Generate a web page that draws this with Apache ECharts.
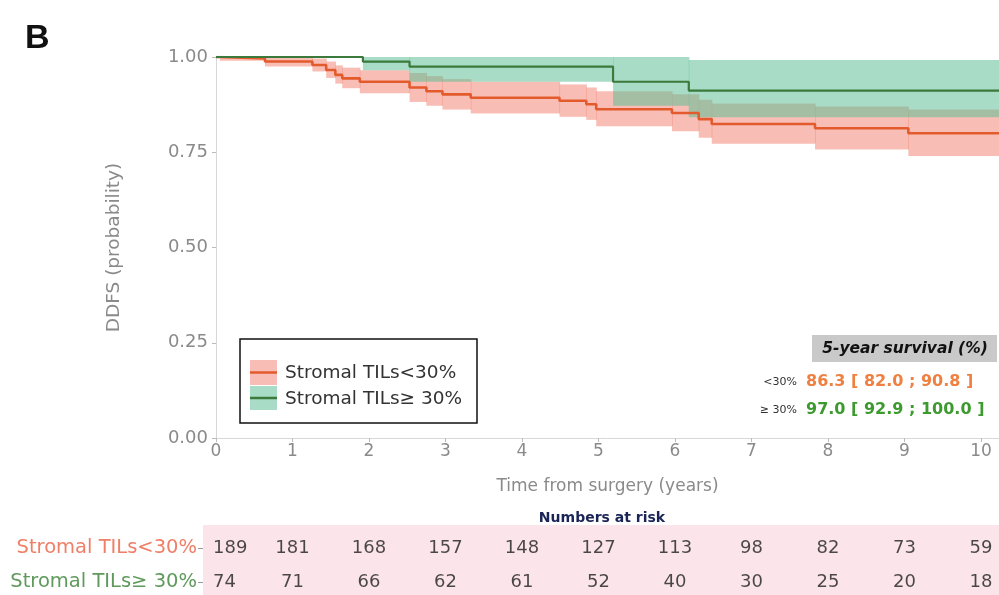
<!DOCTYPE html>
<html>
<head>
<meta charset="utf-8">
<script src="https://cdn.jsdelivr.net/npm/echarts@6/dist/echarts.min.js"></script>
<style>
html,body{margin:0;padding:0;background:#fff;}
#chart{width:999px;height:595px;}
</style>
</head>
<body>
<div id="chart"></div>
<script>
// ---- Data ----
// Stromal TILs<30% : Kaplan-Meier steps (time in years, survival) with 95% CI
const lowT     = [0, 0.05, 0.64, 1.26, 1.44, 1.56, 1.65, 1.88, 2.53, 2.75, 2.96, 3.33, 4.49, 4.84, 4.97, 5.96, 6.31, 6.48, 7.83, 9.05, 10.235];
const lowS     = [1.0, 0.996, 0.988, 0.979, 0.966, 0.953, 0.944, 0.935, 0.920, 0.910, 0.902, 0.893, 0.885, 0.876, 0.863, 0.853, 0.837, 0.824, 0.813, 0.800, 0.800];
const lowLower = [1.0, 0.990, 0.975, 0.962, 0.945, 0.930, 0.918, 0.905, 0.882, 0.872, 0.862, 0.852, 0.843, 0.835, 0.818, 0.805, 0.788, 0.772, 0.757, 0.740, 0.740];
const lowUpper = [1.0, 1.0, 1.0, 0.996, 0.988, 0.978, 0.972, 0.965, 0.958, 0.950, 0.942, 0.935, 0.928, 0.920, 0.910, 0.902, 0.888, 0.878, 0.870, 0.862, 0.862];
// Stromal TILs>=30%
const highT     = [0, 1.92, 2.53, 5.19, 6.18, 10.235];
const highS     = [1.0, 0.988, 0.975, 0.935, 0.912, 0.912];
const highLower = [1.0, 0.965, 0.935, 0.872, 0.842, 0.842];
const highUpper = [1.0, 1.0, 1.0, 1.0, 0.992, 0.992];

// Numbers at risk
const riskYears = [0, 1, 2, 3, 4, 5, 6, 7, 8, 9, 10];
const riskLow  = [189, 181, 168, 157, 148, 127, 113, 98, 82, 73, 59];
const riskHigh = [74, 71, 66, 62, 61, 52, 40, 30, 25, 20, 18];
const groupNames = ['Stromal TILs≥ 30%', 'Stromal TILs<30%'];

// 5-year survival table
const survRows = ['<30%', '≥ 30%'];
const survVals = ['86.3 [ 82.0 ; 90.8 ]', '97.0 [ 92.9 ; 100.0 ]'];

// ---- Styles ----
const FONT = 'DejaVu Sans';
const cLowLine = '#e35a2c', cHighLine = '#3b7a3b';
const cLowBand = 'rgba(240,110,90,0.45)', cHighBand = 'rgba(97,191,151,0.55)';
const axisGray = '#d8d8d8', labelGray = '#8a8a8a';

function pairs(t, v) { return t.map((x, i) => [x, v[i]]); }
// band segments: [t_i, t_{i+1}, lower_i, upper_i]
function bandSegs(t, lo, up) {
  const out = [];
  for (let i = 0; i < t.length - 1; i++) out.push([t[i], t[i + 1], lo[i], up[i]]);
  return out;
}
function bandRenderer(color) {
  return function (params, api) {
    const p1 = api.coord([api.value(0), api.value(3)]);
    const p2 = api.coord([api.value(1), api.value(2)]);
    return {
      type: 'rect',
      shape: {x: p1[0], y: p1[1], width: p2[0] - p1[0] + 0.6, height: Math.max(p2[1] - p1[1], 0.01)},
      style: {fill: color}
    };
  };
}

const chart = echarts.init(document.getElementById('chart'), null, {renderer: 'canvas'});

const riskData = [];
riskYears.forEach((y, i) => {
  const first = i === 0;
  const lab = first ? {align: 'left', offset: [-3, 0]} : undefined;
  riskData.push(first ? {value: [y, 1, riskLow[i]], label: lab} : [y, 1, riskLow[i]]);
  riskData.push(first ? {value: [y, 0, riskHigh[i]], label: lab} : [y, 0, riskHigh[i]]);
});

const Z = 100;
const option = {
  animation: false,
  grid: [
    {left: 216, right: 0, top: 57, bottom: 157},
    {left: 203, right: 0, top: 525, bottom: 0, show: true, backgroundColor: '#fbe5ea', borderWidth: 0}
  ],
  xAxis: [
    {
      type: 'value', gridIndex: 0, min: 0, max: 10.235, interval: 1,
      name: 'Time from surgery (years)', nameLocation: 'middle', nameGap: 40,
      nameTextStyle: {fontFamily: FONT, fontSize: 17, color: labelGray},
      axisLine: {show: true, onZero: false, lineStyle: {color: axisGray, width: 1}},
      axisTick: {show: true, length: 4, lineStyle: {color: '#bbb'}},
      axisLabel: {showMaxLabel: false, fontFamily: FONT, fontSize: 17, color: labelGray, margin: 5},
      splitLine: {show: false}
    },
    {type: 'value', gridIndex: 1, min: -0.17, max: 10.235, show: false}
  ],
  yAxis: [
    {
      type: 'value', gridIndex: 0, min: 0, max: 1, interval: 0.25,
      name: 'DDFS (probability)', nameLocation: 'middle', nameGap: 92, nameRotate: 90,
      nameTextStyle: {fontFamily: FONT, fontSize: 18.5, color: labelGray},
      axisLine: {show: true, onZero: false, lineStyle: {color: axisGray, width: 1}},
      axisTick: {show: true, length: 4, lineStyle: {color: '#bbb'}},
      axisLabel: {formatter: v => v.toFixed(2), fontFamily: FONT, fontSize: 18, color: labelGray, margin: 8},
      splitLine: {show: false}
    },
    {
      type: 'value', gridIndex: 1, min: -0.38, max: 1.68,
      axisLine: {show: false, onZero: false},
      axisTick: {show: true, length: 5, customValues: [0, 1], lineStyle: {color: '#999'}},
      axisLabel: {
        customValues: [0, 1], margin: 6,
        formatter: v => v === 1 ? '{o|' + groupNames[1] + '}' : '{g|' + groupNames[0] + '}',
        rich: {
          o: {color: '#ef7f66', fontFamily: FONT, fontSize: 19.5},
          g: {color: '#5f9a5c', fontFamily: FONT, fontSize: 19.5}
        }
      },
      splitLine: {show: false}
    }
  ],
  series: [
    {type: 'custom', xAxisIndex: 0, yAxisIndex: 0, renderItem: bandRenderer(cLowBand),
     data: bandSegs(lowT, lowLower, lowUpper), silent: true, z: 1, clip: true},
    {type: 'custom', xAxisIndex: 0, yAxisIndex: 0, renderItem: bandRenderer(cHighBand),
     data: bandSegs(highT, highLower, highUpper), silent: true, z: 2, clip: true},
    {type: 'line', xAxisIndex: 0, yAxisIndex: 0, step: 'end', symbol: 'none',
     data: pairs(lowT, lowS), lineStyle: {color: cLowLine, width: 2.6}, z: 5},
    {type: 'line', xAxisIndex: 0, yAxisIndex: 0, step: 'end', symbol: 'none',
     data: pairs(highT, highS), lineStyle: {color: cHighLine, width: 2.2}, z: 6},
    {type: 'scatter', xAxisIndex: 1, yAxisIndex: 1, symbolSize: 0, data: riskData,
     label: {show: true, position: 'inside', formatter: p => String(p.value[2]),
             fontFamily: FONT, fontSize: 18, color: '#1e1e1e'}}
  ],
  graphic: [
    {type: 'text', left: 25, top: 22, z: Z, style: {text: 'B', font: 'bold 34px "Liberation Sans", Arial', fill: '#111'}},
    {type: 'rect', z: Z, shape: {x: 240, y: 339, width: 237, height: 84}, style: {fill: '#fff', stroke: '#111', lineWidth: 1.5}},
    {type: 'rect', z: Z + 1, shape: {x: 250, y: 360, width: 27, height: 25}, style: {fill: cLowBand}},
    {type: 'line', z: Z + 2, shape: {x1: 250, y1: 372.5, x2: 277, y2: 372.5}, style: {stroke: cLowLine, lineWidth: 2.5}},
    {type: 'rect', z: Z + 1, shape: {x: 250, y: 386, width: 27, height: 24}, style: {fill: cHighBand}},
    {type: 'line', z: Z + 2, shape: {x1: 250, y1: 398, x2: 277, y2: 398}, style: {stroke: cHighLine, lineWidth: 2.5}},
    {type: 'text', z: Z + 2, x: 285, y: 373, style: {text: 'Stromal TILs<30%', font: '18.5px "DejaVu Sans"', fill: '#333', verticalAlign: 'middle'}},
    {type: 'text', z: Z + 2, x: 285, y: 399, style: {text: 'Stromal TILs≥ 30%', font: '18.5px "DejaVu Sans"', fill: '#333', verticalAlign: 'middle'}},
    {type: 'rect', z: Z, shape: {x: 812, y: 335, width: 185, height: 27}, style: {fill: '#c9c9c9'}},
    {type: 'text', z: Z + 1, x: 905, y: 349, style: {text: '5-year survival (%)', font: 'italic bold 15.5px "DejaVu Sans"', fill: '#111', align: 'center', verticalAlign: 'middle'}},
    {type: 'text', z: Z, x: 797, y: 382, style: {text: survRows[0], font: '11px "DejaVu Sans"', fill: '#333', align: 'right', verticalAlign: 'middle'}},
    {type: 'text', z: Z, x: 806, y: 382, style: {text: survVals[0], font: 'bold 16px "DejaVu Sans"', fill: '#ef8040', verticalAlign: 'middle'}},
    {type: 'text', z: Z, x: 797, y: 410, style: {text: survRows[1], font: '11px "DejaVu Sans"', fill: '#333', align: 'right', verticalAlign: 'middle'}},
    {type: 'text', z: Z, x: 806, y: 410, style: {text: survVals[1], font: 'bold 16px "DejaVu Sans"', fill: '#3c9a2e', verticalAlign: 'middle'}},
    {type: 'text', z: Z, x: 602, y: 518, style: {text: 'Numbers at risk', font: 'bold 14px "DejaVu Sans"', fill: '#1a2456', align: 'center', verticalAlign: 'middle'}}
  ]
};
chart.setOption(option);
</script>
</body>
</html>
